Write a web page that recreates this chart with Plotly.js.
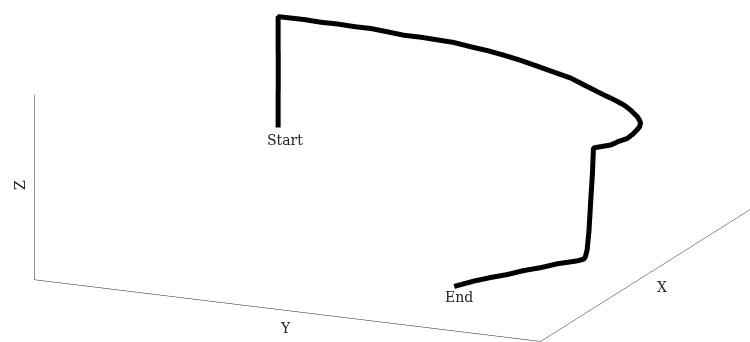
<!DOCTYPE html>
<html>
<head>
<meta charset="utf-8">
<script src="https://cdn.plot.ly/plotly-3.0.1.min.js"></script>
<style>
  html, body { margin: 0; padding: 0; background: #fff; }
  #chart { width: 750px; height: 342px; }
</style>
</head>
<body>
<div id="chart"></div>
<script>
// Recorded flight path (metres): climb, sweeping leg at altitude, descent, ground leg.
const pathX = [
  0.117, 0.117, 0.118, 0.117, 0.117,
  0.119, 0.1175, 0.122, 0.1255, 0.133, 0.148, 0.165, 0.1725, 0.180, 0.1965,
  0.224, 0.2605, 0.294, 0.351, 0.420, 0.4745, 0.545, 0.6455, 0.754, 0.8165,
  0.878, 0.9555, 1.045, 1.0945, 1.147, 1.210, 1.264, 1.348, 1.422, 1.4965,
  1.566, 1.641, 1.655,
  1.658, 1.662, 1.667, 1.672, 1.680, 1.686,
  1.727, 1.822, 1.910, 2.001, 2.088, 2.177, 2.266, 2.389
];
const pathY = [
  0.010, 0.010, 0.011, 0.010, 0.010,
  0.153, 0.244, 0.337, 0.428, 0.524, 0.6235, 0.720, 0.8145, 0.910, 1.0055,
  1.111, 1.2195, 1.324, 1.4395, 1.561, 1.6745, 1.798, 1.9355, 2.072, 2.153,
  2.237, 2.3075, 2.383, 2.417, 2.446, 2.468, 2.480, 2.491, 2.494, 2.480,
  2.467, 2.418, 2.412,
  2.408, 2.400, 2.393, 2.385, 2.379, 2.374,
  2.356, 2.288, 2.236, 2.181, 2.132, 2.083, 2.028, 1.973
];
const pathZ = [
  0.000, 0.145, 0.290, 0.435, 0.578,
  0.580, 0.576, 0.579, 0.577, 0.580, 0.578, 0.576, 0.579, 0.578, 0.580,
  0.577, 0.579, 0.576, 0.578, 0.580, 0.577, 0.579, 0.576, 0.578, 0.580,
  0.577, 0.579, 0.578, 0.576, 0.579, 0.577, 0.580, 0.578, 0.576, 0.579,
  0.577, 0.578, 0.578,
  0.450, 0.300, 0.150, 0.050, 0.015, 0.004,
  0.003, 0.005, 0.002, 0.004, 0.001, 0.004, 0.002, 0.000
];
const axisTitles = ['X', 'Y', 'Z'];
const endLabels = ['Start', 'End'];

const xRange = [0, 3.125];
const yRange = [0, 2.77];
const zRange = [0, 0.9625];

const serif = 'DejaVu Serif, Liberation Serif, serif';
const textFont = { family: serif, size: 14, color: '#222' };
const n = pathX.length;

const spans = [xRange[1] - xRange[0], yRange[1] - yRange[0], zRange[1] - zRange[0]];
const maxSpan = Math.max(...spans);
// Equal metric scale on all three axes, enlarged to fill the frame.
const boxScale = 3.65;

function axis(range) {
  return {
    title: { text: '' },
    range: range,
    showbackground: false,
    showgrid: false,
    zeroline: false,
    showticklabels: false,
    ticks: '',
    showline: true,
    linecolor: '#222',
    linewidth: 1,
    showspikes: false
  };
}

const trace = {
  type: 'scatter3d',
  mode: 'lines',
  x: pathX, y: pathY, z: pathZ,
  line: { color: '#000', width: 10 },
  hoverinfo: 'skip',
  showlegend: false
};

// Viewing direction and framing of the orthographic camera.
const dir = [0.879, 0.387, 0.277];
const dist = 5;
const ctr = [0.1373, -0.1834, -0.1793];

function axisName(text, x, y, angle) {
  return {
    xref: 'paper', yref: 'paper', x: x, y: y, text: text,
    xanchor: 'center', yanchor: 'middle', textangle: angle,
    showarrow: false, font: textFont
  };
}

const layout = {
  width: 750, height: 342,
  margin: { l: 0, r: 0, t: 0, b: 0 },
  paper_bgcolor: '#fff',
  showlegend: false,
  scene: {
    domain: { x: [0, 1], y: [0, 1] },
    xaxis: axis(xRange),
    yaxis: axis(yRange),
    zaxis: axis(zRange),
    aspectmode: 'manual',
    aspectratio: {
      x: boxScale * spans[0] / maxSpan,
      y: boxScale * spans[1] / maxSpan,
      z: boxScale * spans[2] / maxSpan
    },
    camera: {
      eye: { x: ctr[0] + dir[0] * dist, y: ctr[1] + dir[1] * dist, z: ctr[2] + dir[2] * dist },
      center: { x: ctr[0], y: ctr[1], z: ctr[2] },
      up: { x: 0, y: 0, z: 1 },
      projection: { type: 'orthographic' }
    },
    annotations: [
      { x: pathX[0], y: pathY[0], z: pathZ[0], text: endLabels[0], showarrow: false,
        xshift: 7, yshift: -12, font: textFont },
      { x: pathX[n - 1], y: pathY[n - 1], z: pathZ[n - 1], text: endLabels[1], showarrow: false,
        xshift: 5, yshift: -11, font: textFont }
    ]
  },
  // Axis names set beside the box edges.
  annotations: [
    axisName(axisTitles[0], 0.8827, 0.1608, 0),
    axisName(axisTitles[1], 0.380, 0.0409, 0),
    axisName(axisTitles[2], 0.0267, 0.459, -90)
  ]
};

Plotly.newPlot('chart', [trace], layout, { displayModeBar: false });
</script>
</body>
</html>
